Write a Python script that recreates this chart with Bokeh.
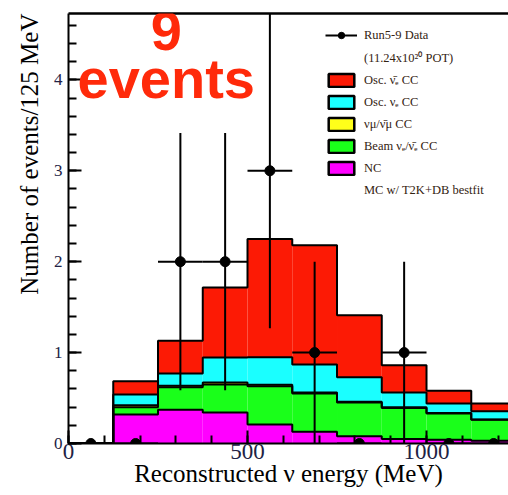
import numpy as np
from bokeh.plotting import figure
from bokeh.models import (Range1d, LinearAxis, Legend, LegendItem, Label, Title,
                          SingleIntervalTicker, FixedTicker)
from bokeh.embed import file_html
from bokeh.resources import INLINE

# ---- data ----
bin_edges = [0, 125, 250, 375, 500, 625, 750, 875, 1000, 1125, 1250]
nc         = [0.0, 0.32, 0.37, 0.34, 0.21, 0.13, 0.08, 0.05, 0.04, 0.03]
beam_nue   = [0.0, 0.08, 0.25, 0.31, 0.42, 0.42, 0.37, 0.34, 0.29, 0.23]
numu       = [0.0, 0.02, 0.015, 0.02, 0.015, 0.01, 0.01, 0.01, 0.005, 0.005]
osc_nue    = [0.0, 0.12, 0.135, 0.275, 0.305, 0.31, 0.27, 0.16, 0.105, 0.09]
osc_nuebar = [0.0, 0.145, 0.36, 0.77, 1.30, 1.31, 0.68, 0.30, 0.14, 0.085]
data_counts = [0, 0, 2, 2, 3, 1, 0, 1, 0, 0]

layer_names = ["NC", "Beam νₑ/ν̄ₑ CC", "νμ/ν̄μ CC", "Osc. νₑ CC", "Osc. ν̄ₑ CC"]
layer_values = [nc, beam_nue, numu, osc_nue, osc_nuebar]
layer_colors = ["#ff00ff", "#1aff1a", "#ffff1a", "#1affff", "#fc1a05"]

SERIF = "Liberation Serif"
NAN = [float("nan")]
X_MAX, Y_MAX = 1229, 4.73

p = figure(width=508, height=495, x_range=Range1d(0, X_MAX), y_range=Range1d(0, Y_MAX),
           output_backend="svg", toolbar_location=None,
           min_border_left=68, min_border_right=0, min_border_top=13, min_border_bottom=52)
p.outline_line_color = None
p.xgrid.visible = False
p.ygrid.visible = False
p.background_fill_color = "white"

edges = np.array(bin_edges, dtype=float)
left, right = edges[:-1], edges[1:]

# stacked histogram fills
bottom = np.zeros(len(left))
cums = []
for vals, col in zip(layer_values, layer_colors):
    top = bottom + np.array(vals)
    p.quad(left=left, right=right, bottom=bottom, top=top,
           fill_color=col, line_color=None)
    cums.append(top.copy())
    bottom = top

# step outlines of each cumulative histogram
for cum in cums:
    ys = list(cum) + [cum[-1]]
    p.step(x=list(edges), y=ys, mode="after", line_color="black", line_width=2)

# data points with errors
counts = np.array(data_counts, dtype=float)
centers = (left + right) / 2
half = (right - left) / 2
err = np.sqrt(counts)
p.segment(x0=centers - half, y0=counts, x1=centers + half, y1=counts,
          line_color="black", line_width=2)
p.segment(x0=centers, y0=counts - err, x1=centers, y1=counts + err,
          line_color="black", line_width=2)
p.scatter(x=centers, y=counts, size=10, marker="circle", color="black")

# axes
for ax in (p.xaxis[0], p.yaxis[0]):
    ax.axis_line_width = 2
    ax.major_tick_line_width = 2
    ax.minor_tick_line_width = 2
    ax.major_tick_out = 0
    ax.minor_tick_out = 0
    ax.major_tick_in = 13
    ax.minor_tick_in = 8
    ax.major_label_text_font = SERIF
    ax.axis_label_text_font = SERIF
    ax.axis_label_text_font_style = "normal"
    ax.major_label_text_color = "#222244"
    ax.axis_label_text_color = "black"

p.xaxis.ticker = SingleIntervalTicker(interval=500, num_minor_ticks=5)
p.yaxis.ticker = SingleIntervalTicker(interval=1, num_minor_ticks=5)
p.xaxis.axis_label = "Reconstructed ν energy (MeV)"
p.xaxis.major_label_text_font_size = "23px"
p.yaxis.major_label_text_font_size = "17px"
p.xaxis.axis_label_text_font_size = "25px"
p.xaxis.major_label_standoff = 0
p.xaxis.axis_label_standoff = -2
p.yaxis.major_label_standoff = 6

# y-axis title, top-aligned as in the reference (ROOT style)
p.add_layout(Title(text="Number of events/125 MeV", align="right",
                   text_font=SERIF, text_font_size="25px", text_font_style="normal",
                   text_color="black", standoff=16, offset=0), "left")

top_axis = LinearAxis(ticker=FixedTicker(ticks=[]), axis_line_width=2.5,
                      major_tick_in=0, major_tick_out=0, minor_tick_in=0, minor_tick_out=0,
                      major_label_standoff=0)
p.add_layout(top_axis, "above")

# legend with placeholder (NaN, never drawn) renderers carrying the legend styles
r_dl = p.line(x=NAN, y=NAN, line_color="black", line_width=2)
r_dp = p.scatter(x=NAN, y=NAN, size=10, marker="circle", color="black")
r_none1 = p.scatter(x=NAN, y=NAN, alpha=0)
r_none2 = p.scatter(x=NAN, y=NAN, alpha=0)
items = [LegendItem(label="Run5-9 Data", renderers=[r_dl, r_dp]),
         LegendItem(label="(11.24x10²⁰ POT)", renderers=[r_none1])]
for name, col in reversed(list(zip(layer_names, layer_colors))):
    r = p.quad(left=NAN, right=NAN, bottom=NAN, top=NAN, fill_color=col,
               line_color="black", line_width=2.5)
    items.append(LegendItem(label=name, renderers=[r]))
items.append(LegendItem(label="MC w/ T2K+DB bestfit", renderers=[r_none2]))

legend = Legend(items=items, location=(257, 245), padding=0, margin=0, spacing=6,
                glyph_width=32, glyph_height=16, label_height=16, label_standoff=7,
                label_text_font=SERIF, label_text_font_size="12.5px",
                label_text_color="#332211",
                border_line_color=None, background_fill_alpha=0)
p.add_layout(legend)

# big annotation
for txt, yv in (("9", 4.54), ("events", 4.02)):
    p.add_layout(Label(x=273, y=yv, text=txt, text_align="center",
                       text_baseline="alphabetic", text_font="Liberation Sans",
                       text_font_style="bold", text_font_size="56px",
                       text_color="#ff2a0a"))

open("out.html", "w").write(file_html(p, INLINE))
